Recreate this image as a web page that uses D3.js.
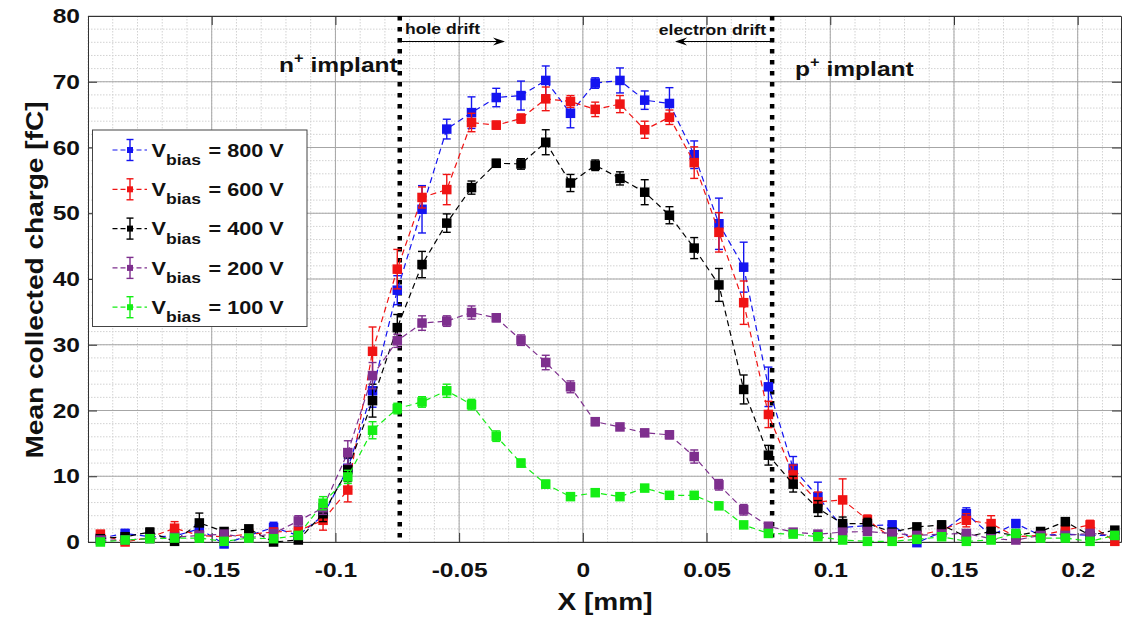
<!DOCTYPE html>
<html lang="en">
<head>
<meta charset="UTF-8">
<script src="https://cdn.jsdelivr.net/npm/d3@7"></script>
<style>
  body { margin: 0; background: #fff; }
  text { font-family: "Liberation Sans", Arial, sans-serif; font-weight: bold; fill: #111; }
</style>
</head>
<body>
<svg id="chart" width="1134" height="618"></svg>
<script>
// scan positions [mm]
let xPos = [-0.195, -0.185, -0.175, -0.165, -0.155, -0.145, -0.135, -0.125, -0.115, -0.105,
            -0.095, -0.085, -0.075, -0.065, -0.055, -0.045, -0.035, -0.025, -0.015, -0.005,
             0.005,  0.015,  0.025,  0.035,  0.045,  0.055,  0.065,  0.075,  0.085,  0.095,
             0.105,  0.115,  0.125,  0.135,  0.145,  0.155,  0.165,  0.175,  0.185,  0.195,
             0.205,  0.215];

// mean collected charge [fC] and errors
let q800 = [0.6, 1.3, 0.8, 0.9, 2.0, -0.3, 1.0, 2.2, 1.0, 4.0, 11.2, 23.0, 38.3, 50.6, 62.8, 65.3, 67.6, 67.9, 70.2, 65.2,
            69.8, 70.2, 67.2, 66.7, 58.9, 48.4, 41.8, 23.6, 11.2, 6.9, 2.2, 2.5, 2.6, -0.1, 1.5, 4.3, 1.0, 2.8, 1.0, 1.2, 1.0, 1.0];
let e800 = [0.5, 0.6, 0.5, 0.5, 0.8, 0.5, 0.5, 0.8, 0.6, 1.0, 1.5, 2.5, 2.2, 3.6, 1.5, 2.4, 1.4, 2.2, 2.2, 2.2,
            0.8, 1.9, 1.4, 2.4, 2.1, 3.9, 3.8, 3.0, 1.8, 2.2, 1.0, 0.8, 0.6, 0.5, 0.6, 0.9, 0.6, 0.6, 0.5, 0.5, 0.5, 0.5];

let q600 = [1.2, 0.0, 0.7, 2.1, 1.0, 0.8, 1.2, 1.5, 1.7, 3.3, 7.9, 29.0, 41.5, 52.4, 53.6, 63.8, 63.4, 64.4, 67.4, 67.0,
            65.8, 66.6, 62.7, 64.6, 57.7, 47.1, 36.4, 19.4, 10.2, 6.1, 6.4, 3.4, 0.5, 1.0, 1.8, 3.3, 2.8, 0.8, 1.0, 1.8, 2.6, 0.1];
let e600 = [0.5, 0.5, 0.5, 1.0, 0.6, 0.5, 0.5, 0.6, 0.6, 1.5, 1.8, 3.7, 3.0, 1.6, 2.3, 1.4, 0.6, 0.7, 1.8, 0.9,
            1.1, 1.3, 1.3, 1.1, 2.4, 3.0, 3.3, 2.0, 1.5, 1.5, 3.2, 0.7, 0.5, 0.5, 0.6, 1.0, 1.2, 0.5, 0.5, 0.6, 0.7, 0.5];

let q400 = [0.5, 0.8, 1.5, 0.1, 2.9, 1.6, 2.0, 0.0, 0.3, 4.3, 11.0, 21.5, 32.6, 42.2, 48.5, 53.9, 57.6, 57.5, 60.8, 54.6,
            57.3, 55.3, 53.2, 49.7, 44.7, 39.1, 23.2, 13.2, 8.8, 5.1, 2.8, 2.8, 1.5, 2.3, 2.6, 0.8, 1.6, 1.0, 1.6, 3.1, 1.0, 1.8];
let e400 = [0.5, 0.6, 0.6, 0.5, 1.5, 0.5, 0.5, 0.5, 0.5, 1.2, 1.8, 2.5, 2.0, 2.0, 1.4, 1.0, 0.6, 0.8, 1.9, 1.3,
            0.8, 1.0, 1.9, 1.3, 1.6, 2.5, 2.2, 1.5, 1.2, 1.2, 1.0, 0.8, 0.5, 0.5, 0.6, 0.5, 0.6, 0.5, 0.5, 0.6, 0.5, 0.5];

let q200 = [0.3, 0.3, 0.5, 0.7, 1.0, 1.2, 0.6, 1.3, 3.2, 5.2, 13.6, 25.3, 30.6, 33.3, 33.6, 34.9, 34.1, 30.7, 27.3, 23.6,
            18.3, 17.5, 16.6, 16.3, 13.0, 8.7, 4.9, 2.4, 1.5, 1.2, 1.5, 1.6, 1.3, 1.0, 1.2, 1.3, 0.5, 0.3, 1.0, 1.0, 1.3, 1.0];
let e200 = [0.4, 0.4, 0.4, 0.5, 0.5, 0.5, 0.4, 0.5, 0.8, 1.0, 1.8, 2.0, 1.0, 1.1, 0.8, 1.0, 0.6, 0.8, 1.1, 0.9,
            0.6, 0.5, 0.5, 0.6, 1.0, 0.8, 0.8, 0.5, 0.4, 0.4, 0.4, 0.4, 0.4, 0.4, 0.4, 0.5, 0.4, 0.4, 0.4, 0.4, 0.4, 0.4];

let q100 = [0.0, 0.3, 0.5, 0.6, 0.6, 0.1, 0.6, 0.5, 1.0, 5.9, 9.9, 17.0, 20.3, 21.3, 23.0, 20.9, 16.1, 12.0, 8.8, 6.9,
            7.5, 6.9, 8.2, 7.1, 7.1, 5.5, 2.6, 1.3, 1.2, 0.8, 0.3, 0.1, 0.1, 0.4, 0.8, 0.1, 0.3, 1.3, 0.6, 0.6, 0.1, 1.0];
let e100 = [0.3, 0.3, 0.3, 0.3, 0.4, 0.3, 0.3, 0.3, 0.4, 1.0, 1.0, 1.3, 0.8, 0.8, 1.0, 0.8, 0.8, 0.6, 0.6, 0.5,
            0.5, 0.5, 0.5, 0.5, 0.5, 0.5, 0.5, 0.4, 0.4, 0.3, 0.3, 0.3, 0.3, 0.3, 0.3, 0.3, 0.3, 0.3, 0.3, 0.3, 0.3, 0.3];

let biasLabels = ["800 V", "600 V", "400 V", "200 V", "100 V"];
let biasColors = ["#1414f0", "#f01414", "#000000", "#7e2f8e", "#14ee14"];
let seriesQ = [q800, q600, q400, q200, q100];
let seriesE = [e800, e600, e400, e200, e100];

let xTicks = [-0.15, -0.1, -0.05, 0, 0.05, 0.1, 0.15, 0.2];
let xTickLabels = ["-0.15", "-0.1", "-0.05", "0", "0.05", "0.1", "0.15", "0.2"];
let yTicks = [0, 10, 20, 30, 40, 50, 60, 70, 80];
let implantEdges = [-0.074, 0.0765];

const SX = 1.17; // text in the original is rendered wider than Arial
let svg = d3.select("#chart");
let pLeft = 88, pRight = 1121, pTop = 16, pBottom = 542;

let x = d3.scaleLinear().domain([-0.2, 0.2175]).range([pLeft, pRight]);
let y = d3.scaleLinear().domain([0, 80]).range([pBottom, pTop]);

svg.append("rect").attr("x", pLeft).attr("y", pTop)
    .attr("width", pRight - pLeft).attr("height", pBottom - pTop).attr("fill", "#fff");

// minor grid
let grid = svg.append("g");
d3.range(-20, 22).map(d => d / 100).forEach(v => {
    grid.append("line").attr("x1", x(v)).attr("x2", x(v)).attr("y1", pTop).attr("y2", pBottom)
        .attr("stroke", "#d2d2d2").attr("stroke-width", 1).attr("stroke-dasharray", "1.5,1.5");
});
d3.range(2, 80, 2).forEach(v => {
    grid.append("line").attr("x1", pLeft).attr("x2", pRight).attr("y1", y(v)).attr("y2", y(v))
        .attr("stroke", "#d2d2d2").attr("stroke-width", 1).attr("stroke-dasharray", "1.5,1.5");
});
// major grid
xTicks.forEach(v => {
    grid.append("line").attr("x1", x(v)).attr("x2", x(v)).attr("y1", pTop).attr("y2", pBottom)
        .attr("stroke", "#a6a6a6").attr("stroke-width", 1);
});
yTicks.forEach(v => {
    grid.append("line").attr("x1", pLeft).attr("x2", pRight).attr("y1", y(v)).attr("y2", y(v))
        .attr("stroke", "#a6a6a6").attr("stroke-width", 1);
});

// axes (ticks pointing inward)
let axisColor = "#333";
let xAxis = svg.append("g").attr("transform", `translate(0,${pBottom})`)
    .call(d3.axisBottom(x).tickValues(xTicks).tickSize(-9).tickSizeOuter(0).tickPadding(20)
        .tickFormat((d, i) => xTickLabels[i]));
let yAxis = svg.append("g").attr("transform", `translate(${pLeft},0)`)
    .call(d3.axisLeft(y).tickValues(yTicks).tickSize(-9).tickSizeOuter(0).tickPadding(8));
let xTop = svg.append("g").attr("transform", `translate(0,${pTop})`)
    .call(d3.axisTop(x).tickValues(xTicks).tickSize(-9).tickSizeOuter(0).tickFormat(""));
let yRight = svg.append("g").attr("transform", `translate(${pRight},0)`)
    .call(d3.axisRight(y).tickValues(yTicks).tickSize(-9).tickSizeOuter(0).tickFormat(""));
[xAxis, yAxis, xTop, yRight].forEach(a => {
    a.select(".domain").attr("stroke", axisColor).attr("stroke-width", 1);
    a.selectAll(".tick line").attr("stroke", axisColor).attr("stroke-width", 1);
});
xAxis.selectAll(".tick text").attr("transform", `scale(${SX},1)`)
    .style("font-size", "21px").attr("fill", "#222").style("font-family", "Liberation Sans, Arial").style("font-weight", "bold");
yAxis.selectAll(".tick text").attr("x", -8 / SX).attr("transform", `scale(${SX},1)`)
    .style("font-size", "21px").attr("fill", "#222").style("font-family", "Liberation Sans, Arial").style("font-weight", "bold");

// axis titles
svg.append("text").attr("transform", `translate(605,610) scale(${SX},1)`)
    .attr("text-anchor", "middle").style("font-size", "24px").attr("fill", "#222").text("X [mm]");
svg.append("text").attr("transform", `translate(43,280) rotate(-90) scale(${SX},1)`)
    .attr("text-anchor", "middle").style("font-size", "24px").attr("fill", "#222").text("Mean collected charge [fC]");

// implant boundaries
implantEdges.forEach(v => {
    svg.append("line").attr("x1", x(v)).attr("x2", x(v)).attr("y1", pTop).attr("y2", pBottom)
        .attr("stroke", "#000").attr("stroke-width", 4.5).attr("stroke-dasharray", "4.5,6.5");
});

// data series
let line = d3.line().x((d, i) => x(xPos[i])).y(d => y(d));
seriesQ.forEach((q, s) => {
    let c = biasColors[s], e = seriesE[s];
    let g = svg.append("g");
    g.append("path").datum(q).attr("d", line).attr("fill", "none")
        .attr("stroke", c).attr("stroke-width", 1.2).attr("stroke-dasharray", "6,4");
    q.forEach((v, i) => {
        let cx = x(xPos[i]), y1 = y(v - e[i]), y2 = y(v + e[i]);
        g.append("line").attr("x1", cx).attr("x2", cx).attr("y1", y1).attr("y2", y2)
            .attr("stroke", c).attr("stroke-width", 1.4);
        [y1, y2].forEach(yy => g.append("line").attr("x1", cx - 4).attr("x2", cx + 4)
            .attr("y1", yy).attr("y2", yy).attr("stroke", c).attr("stroke-width", 1.4));
    });
    g.selectAll("rect").data(q).enter().append("rect")
        .attr("x", (d, i) => x(xPos[i]) - 4.75).attr("y", d => y(d) - 4.75)
        .attr("width", 9.5).attr("height", 9.5).attr("fill", c);
});

// annotations
let nt = svg.append("text").attr("transform", `translate(279,72) scale(${SX},1)`).style("font-size", "21px");
nt.append("tspan").text("n");
nt.append("tspan").attr("dy", -9).style("font-size", "14px").text("+");
nt.append("tspan").attr("dy", 9).style("font-size", "21px").text(" implant");
let pt = svg.append("text").attr("transform", `translate(795,76) scale(${SX},1)`).style("font-size", "21px");
pt.append("tspan").text("p");
pt.append("tspan").attr("dy", -9).style("font-size", "14px").text("+");
pt.append("tspan").attr("dy", 9).style("font-size", "21px").text(" implant");

svg.append("text").attr("transform", `translate(405,34) scale(${SX},1)`).style("font-size", "15px").text("hole drift");
svg.append("text").attr("transform", `translate(766,35) scale(${SX},1)`).attr("text-anchor", "end")
    .style("font-size", "15px").text("electron drift");

function arrow(x1, x2, yy) {
    let dir = Math.sign(x2 - x1);
    svg.append("line").attr("x1", x1).attr("x2", x2 - dir * 4).attr("y1", yy).attr("y2", yy)
        .attr("stroke", "#000").attr("stroke-width", 1);
    svg.append("path")
        .attr("d", `M${x2},${yy} L${x2 - dir * 12},${yy - 4} L${x2 - dir * 8},${yy} L${x2 - dir * 12},${yy + 4} Z`)
        .attr("fill", "#000");
}
arrow(x(implantEdges[0]) + 2, 505, 41.5);
arrow(x(implantEdges[1]) - 2, 675, 41.5);

// legend
let lg = svg.append("g");
lg.append("rect").attr("x", 92.5).attr("y", 130).attr("width", 214.5).attr("height", 196.5)
    .attr("fill", "#fff").attr("stroke", "#444").attr("stroke-width", 1);
biasLabels.forEach((lab, i) => {
    let cy = 150 + i * 39.3, c = biasColors[i];
    lg.append("line").attr("x1", 112.5).attr("x2", 147).attr("y1", cy).attr("y2", cy)
        .attr("stroke", c).attr("stroke-width", 1.2).attr("stroke-dasharray", "5,3");
    lg.append("line").attr("x1", 130).attr("x2", 130).attr("y1", cy - 10.5).attr("y2", cy + 10.5)
        .attr("stroke", c).attr("stroke-width", 1.4);
    [cy - 10.5, cy + 10.5].forEach(yy => lg.append("line").attr("x1", 126.5).attr("x2", 133.5)
        .attr("y1", yy).attr("y2", yy).attr("stroke", c).attr("stroke-width", 1.4));
    lg.append("rect").attr("x", 127).attr("y", cy - 3).attr("width", 6).attr("height", 6).attr("fill", c);
    lg.append("text").attr("transform", `translate(151.5,${cy + 6.7}) scale(${SX},1)`)
        .style("font-size", "18.5px").text("V");
    lg.append("text").attr("transform", `translate(166,${cy + 15}) scale(${SX},1)`)
        .style("font-size", "15px").text("bias");
    lg.append("text").attr("transform", `translate(208.5,${cy + 6.7}) scale(${SX},1)`)
        .style("font-size", "18.5px").text("= " + lab);
});
</script>
</body>
</html>
